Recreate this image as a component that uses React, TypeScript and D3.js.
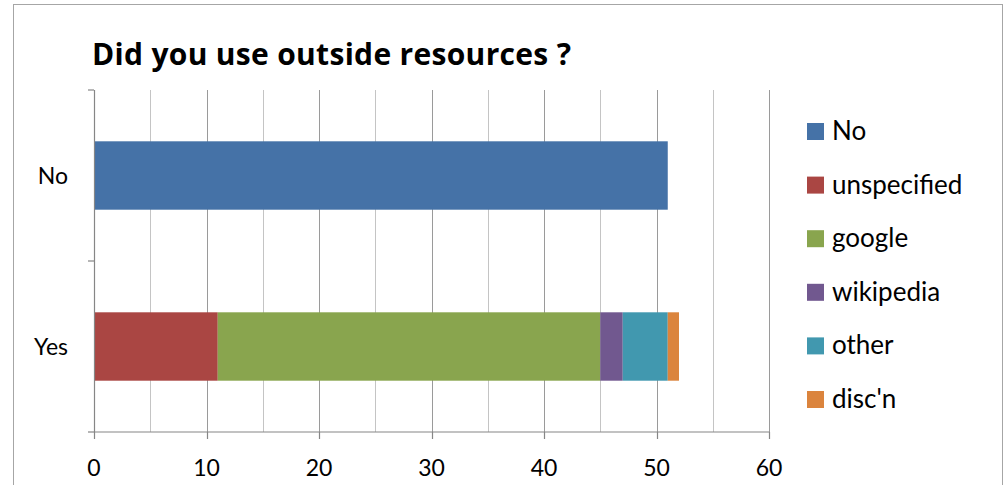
import React from "react";
import * as d3 from "d3";

const categories = ["No", "Yes"];
const seriesNames = ["No", "unspecified", "google", "wikipedia", "other", "disc'n"];
const noValues = [51, 0];
const unspecifiedValues = [0, 11];
const googleValues = [0, 34];
const wikipediaValues = [0, 2];
const otherValues = [0, 4];
const discnValues = [0, 1];
const xTicks = [0, 10, 20, 30, 40, 50, 60];
const colors = ["#4572A7", "#AA4643", "#89A54E", "#71588F", "#4198AF", "#DB843D"];

const seriesValues = [noValues, unspecifiedValues, googleValues, wikipediaValues, otherValues, discnValues];

export default function App() {
  const W = 1007, H = 485;
  const left = 94, right = 769, top = 90, bottom = 432;
  const x = d3.scaleLinear().domain([0, 60]).range([left, right]);
  const y = d3.scaleBand().domain(categories).range([top, bottom]).paddingInner(0.6).paddingOuter(0.3);

  const table = categories.map((c, i) => {
    const row: any = { cat: c };
    seriesNames.forEach((s, j) => (row[s] = seriesValues[j][i]));
    return row;
  });
  const stacked = d3.stack().keys(seriesNames)(table);
  const gridVals = d3.range(5, 61, 5);
  const font = "Lato, 'Open Sans', sans-serif";
  const bandEdges = [top, (top + bottom) / 2, bottom];

  return (
    <svg width={W} height={H} style={{ position: "absolute", left: 0, top: 0, background: "#fff" }}>
      <rect x={13.5} y={4.5} width={989} height={500} fill="#fff" stroke="#a6a6a6" strokeWidth={1} />
      <text x={92} y={65} fontFamily="'Open Sans', Lato, sans-serif" fontWeight="bold" fontSize={30} fill="#000"
        textLength={479} lengthAdjust="spacing">
        Did you use outside resources ?
      </text>
      {gridVals.map((v) => (
        <line key={v} x1={Math.round(x(v)) + 0.5} x2={Math.round(x(v)) + 0.5} y1={top} y2={bottom}
          stroke={v % 10 === 0 ? "#9a9a9a" : "#c4c4c4"} strokeWidth={1} />
      ))}
      {stacked.map((s, j) =>
        s.map((d, i) =>
          d[1] - d[0] > 0 ? (
            <rect key={j + "-" + i} x={x(d[0])} y={y(categories[i])} width={x(d[1]) - x(d[0])}
              height={y.bandwidth()} fill={colors[j]} />
          ) : null
        )
      )}
      <line x1={left + 0.5} x2={left + 0.5} y1={top} y2={bottom} stroke="#868686" strokeWidth={1.2} />
      {bandEdges.map((b, i) => (
        <line key={i} x1={left - 6} x2={left} y1={b} y2={b} stroke="#868686" strokeWidth={1.2} />
      ))}
      <line x1={left} x2={right + 0.5} y1={bottom} y2={bottom} stroke="#868686" strokeWidth={1.2} />
      {xTicks.map((t) => (
        <g key={t}>
          <line x1={Math.round(x(t)) + 0.5} x2={Math.round(x(t)) + 0.5} y1={bottom} y2={bottom + 7} stroke="#868686" strokeWidth={1.2} />
          <text x={x(t)} y={476} textAnchor="middle" fontFamily={font} fontSize={23} fill="#000">{t}</text>
        </g>
      ))}
      {categories.map((c) => (
        <text key={c} x={68} y={(y(c) as number) + y.bandwidth() / 2 + 8.5} textAnchor="end" fontFamily={font} fontSize={23} fill="#000">{c}</text>
      ))}
      {seriesNames.map((s, j) => (
        <g key={s} transform={`translate(807, ${123 + j * 53.6})`}>
          <rect x={0} y={0} width={17} height={17} fill={colors[j]} />
          <text x={25} y={17} fontFamily={font} fontSize={26} fill="#000">{s}</text>
        </g>
      ))}
    </svg>
  );
}
